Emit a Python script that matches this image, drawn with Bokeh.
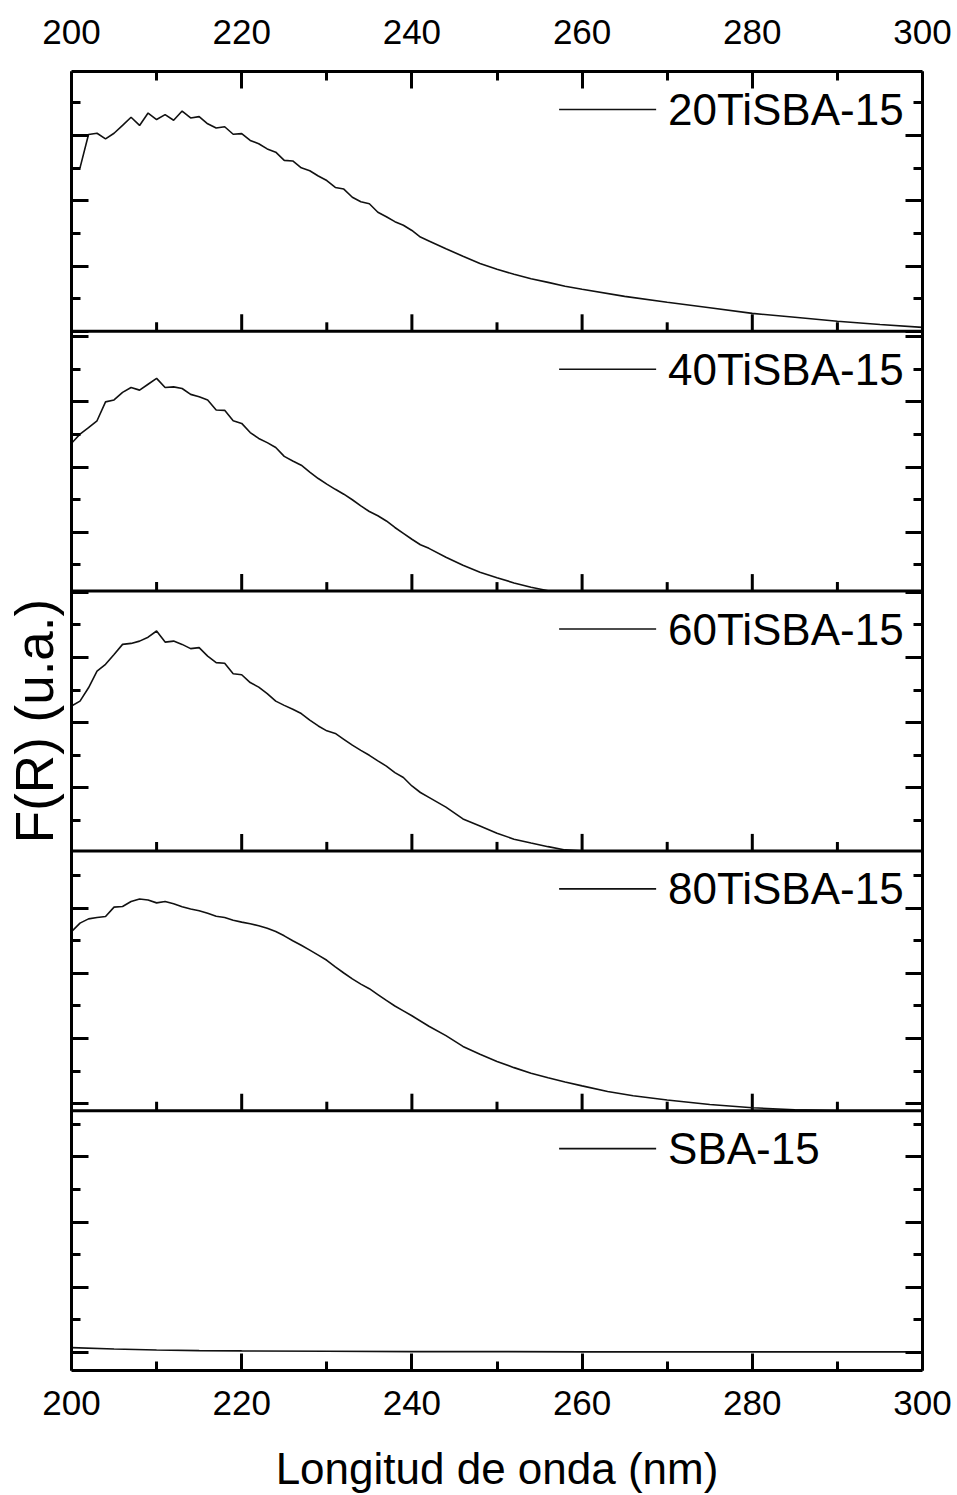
import numpy as np
from bokeh.plotting import figure
from bokeh.models import LinearAxis, FixedTicker, Span, Range1d
from bokeh.core.properties import value
from bokeh.embed import file_html
from bokeh.resources import INLINE

# Diffuse-reflectance UV spectra, Kubelka-Munk function F(R) in arbitrary units
samples = ["20TiSBA-15", "40TiSBA-15", "60TiSBA-15", "80TiSBA-15", "SBA-15"]

wl_20ti = [200, 201, 202, 203, 204, 205, 206, 207, 208, 209, 210, 211, 212, 213, 214,
           215, 216, 217, 218, 219, 220, 221, 222, 223, 224, 225, 226, 227, 228, 229,
           230, 231, 232, 233, 234, 235, 236, 237, 238, 239, 240, 241, 242, 244, 246,
           248, 250, 252, 254, 256, 258, 260, 265, 270, 275, 280, 285, 290, 295, 300]
fr_20ti = [0.501, 0.501, 0.603, 0.607, 0.590, 0.607, 0.631, 0.656, 0.631, 0.669, 0.649,
           0.664, 0.647, 0.675, 0.654, 0.658, 0.636, 0.623, 0.627, 0.604, 0.606, 0.585,
           0.575, 0.559, 0.549, 0.524, 0.522, 0.501, 0.492, 0.476, 0.462, 0.441, 0.436,
           0.411, 0.397, 0.391, 0.365, 0.351, 0.336, 0.325, 0.309, 0.289, 0.277, 0.253,
           0.230, 0.208, 0.190, 0.175, 0.161, 0.150, 0.138, 0.129, 0.107, 0.089, 0.072,
           0.055, 0.043, 0.031, 0.021, 0.012]

wl_40ti = [200, 201, 202, 203, 204, 205, 206, 207, 208, 209, 210, 211, 212, 213, 214,
           215, 216, 217, 218, 219, 220, 221, 222, 223, 224, 225, 226, 227, 228, 229,
           230, 231, 232, 233, 234, 235, 236, 237, 238, 239, 240, 241, 242, 244, 246,
           248, 250, 252, 254, 256, 258, 260, 270, 280, 290, 300]
fr_40ti = [0.273, 0.301, 0.321, 0.342, 0.400, 0.406, 0.429, 0.444, 0.436, 0.454, 0.472,
           0.444, 0.446, 0.441, 0.423, 0.416, 0.406, 0.375, 0.374, 0.342, 0.334, 0.306,
           0.288, 0.275, 0.260, 0.233, 0.219, 0.206, 0.185, 0.165, 0.148, 0.132, 0.117,
           0.100, 0.081, 0.064, 0.051, 0.035, 0.015, -0.003, -0.021, -0.038, -0.049,
           -0.076, -0.101, -0.122, -0.139, -0.155, -0.168, -0.179, -0.188, -0.195,
           -0.210, -0.220, -0.225, -0.230]

wl_60ti = [200, 201, 202, 203, 204, 205, 206, 207, 208, 209, 210, 211, 212, 213, 214,
           215, 216, 217, 218, 219, 220, 221, 222, 223, 224, 225, 226, 227, 228, 229,
           230, 231, 232, 233, 234, 235, 236, 237, 238, 239, 240, 241, 242, 244, 246,
           248, 250, 252, 254, 256, 258, 260, 270, 280, 290, 300]
fr_60ti = [0.251, 0.266, 0.307, 0.358, 0.379, 0.409, 0.440, 0.443, 0.450, 0.462, 0.481,
           0.447, 0.450, 0.440, 0.427, 0.430, 0.404, 0.384, 0.382, 0.350, 0.347, 0.323,
           0.309, 0.289, 0.266, 0.253, 0.241, 0.228, 0.208, 0.190, 0.175, 0.167, 0.149,
           0.131, 0.115, 0.100, 0.083, 0.067, 0.047, 0.032, 0.006, -0.014, -0.029,
           -0.059, -0.095, -0.117, -0.139, -0.157, -0.169, -0.180, -0.190, -0.197,
           -0.210, -0.220, -0.225, -0.230]

wl_80ti = [200, 201, 202, 203, 204, 205, 206, 207, 208, 209, 210, 211, 212, 213, 214,
           215, 216, 217, 218, 219, 220, 221, 222, 223, 224, 225, 226, 227, 228, 229,
           230, 231, 232, 233, 234, 235, 236, 237, 238, 239, 240, 242, 244, 246, 248,
           250, 252, 254, 256, 258, 260, 263, 266, 270, 275, 280, 285, 290, 295, 300]
fr_80ti = [0.528, 0.554, 0.567, 0.571, 0.574, 0.603, 0.605, 0.620, 0.628, 0.625, 0.616,
           0.620, 0.613, 0.604, 0.597, 0.592, 0.584, 0.575, 0.571, 0.563, 0.557, 0.552,
           0.546, 0.538, 0.528, 0.515, 0.500, 0.486, 0.471, 0.456, 0.440, 0.420, 0.401,
           0.383, 0.367, 0.353, 0.335, 0.317, 0.300, 0.285, 0.270, 0.238, 0.209, 0.176,
           0.152, 0.130, 0.111, 0.094, 0.080, 0.067, 0.055, 0.038, 0.025, 0.012, -0.002,
           -0.012, -0.018, -0.024, -0.028, -0.031]

wl_sba = [200, 205, 210, 215, 220, 230, 240, 250, 260, 270, 280, 290, 300]
fr_sba = [0.015, 0.011, 0.008, 0.006, 0.005, 0.004, 0.003, 0.003, 0.002, 0.002, 0.002,
          0.002, 0.002]

spectra = [(wl_20ti, fr_20ti), (wl_40ti, fr_40ti), (wl_60ti, fr_60ti),
           (wl_80ti, fr_80ti), (wl_sba, fr_sba)]

# lower limit of the F(R) axis in each stacked panel
panel_floor = [0.0, -0.18, -0.193, -0.021, -0.055]

x_major = [200, 220, 240, 260, 280, 300]
x_minor = [210, 230, 250, 270, 290]

SPAN = 0.7963          # F(R) range shown in one panel
N = len(samples)
FONT = "Liberation Sans"
INK = "black"

p = figure(width=957, height=1495, output_backend="svg", toolbar_location=None,
           x_range=Range1d(200, 300), y_range=Range1d(0, N * SPAN),
           min_border_left=71, min_border_right=35, min_border_top=71,
           min_border_bottom=124, outline_line_color=None)
p.grid.visible = False
p.background_fill_color = "white"
p.border_fill_color = "white"


def style_axis(ax, show_labels):
    ax.axis_line_width = 3
    ax.axis_line_color = INK
    ax.major_tick_in = 17
    ax.major_tick_out = 0
    ax.minor_tick_in = 9
    ax.minor_tick_out = 0
    ax.major_tick_line_width = 3
    ax.minor_tick_line_width = 3
    ax.major_tick_line_color = INK
    ax.minor_tick_line_color = INK
    ax.major_label_text_font = FONT
    ax.axis_label_text_font = FONT
    ax.axis_label_text_font_style = "normal"
    ax.axis_label_text_font_size = "44px"
    ax.axis_label_text_color = INK
    if show_labels:
        ax.major_label_text_font_size = "35px"
        ax.major_label_text_color = INK
    else:
        # tick marks only, no tick labels
        ax.major_label_text_font_size = "0px"
        ax.major_label_text_color = None
        ax.major_label_standoff = 0


x_ticker = FixedTicker(ticks=x_major, minor_ticks=x_minor)

# y ticks of each panel, placed on the stacked coordinate
tick_vals = np.round(np.arange(-0.4, 1.01, 0.1), 1)
y_major, y_minor = [], []
for i in range(N):
    bottom = (N - 1 - i) * SPAN
    base = bottom - panel_floor[i]
    for t in tick_vals:
        pos = t + base
        if bottom - 1e-9 <= pos <= bottom + SPAN + 1e-9:
            if round(t * 10) % 2 == 0:
                y_major.append(pos)
            else:
                y_minor.append(pos)
y_ticker = FixedTicker(ticks=y_major, minor_ticks=y_minor)

xb = p.xaxis[0]
xb.ticker = x_ticker
xb.axis_label = "Longitud de onda (nm)"
style_axis(xb, True)
xb.major_label_standoff = 20
xb.axis_label_standoff = 26

xt = LinearAxis(ticker=x_ticker)
style_axis(xt, True)
xt.major_label_standoff = 28
p.add_layout(xt, "above")

yl = p.yaxis[0]
yl.ticker = y_ticker
yl.axis_label = "F(R) (u.a.)"
style_axis(yl, False)
yl.axis_label_text_font_size = "53px"
yl.axis_label_standoff = 8

yr = LinearAxis(ticker=y_ticker)
style_axis(yr, False)
p.add_layout(yr, "right")

# separators between panels, with their own inward x ticks
for k in range(1, N):
    p.add_layout(Span(location=k * SPAN, dimension="width", line_color=INK, line_width=3))
    yk = [k * SPAN] * len(x_major[1:-1])
    p.ray(x=x_major[1:-1], y=yk, length=17, length_units="screen", angle=np.pi / 2,
          line_color=INK, line_width=3)
    yk = [k * SPAN] * len(x_minor)
    p.ray(x=x_minor, y=yk, length=9, length_units="screen", angle=np.pi / 2,
          line_color=INK, line_width=3)

# spectra and their keys
LEG_X0, LEG_X1, LEG_TX = 257.3, 268.7, 270.1
LEG_DY = 38 / 326.5
for i, (name, (wl, fr)) in enumerate(zip(samples, spectra)):
    bottom = (N - 1 - i) * SPAN
    top = bottom + SPAN
    ys = np.clip(np.asarray(fr) - panel_floor[i] + bottom, bottom, top)
    p.line(wl, ys, line_color="#111111", line_width=1.6)
    ly = top - LEG_DY
    p.segment(x0=[LEG_X0], y0=[ly], x1=[LEG_X1], y1=[ly], line_color="#111111",
              line_width=1.6)
    p.text(x=[LEG_TX], y=[ly], text=[name], text_font=value(FONT),
           text_font_size="44px", text_baseline="middle", text_align="left",
           text_color=INK)

open("out.html", "w").write(file_html(p, INLINE))
